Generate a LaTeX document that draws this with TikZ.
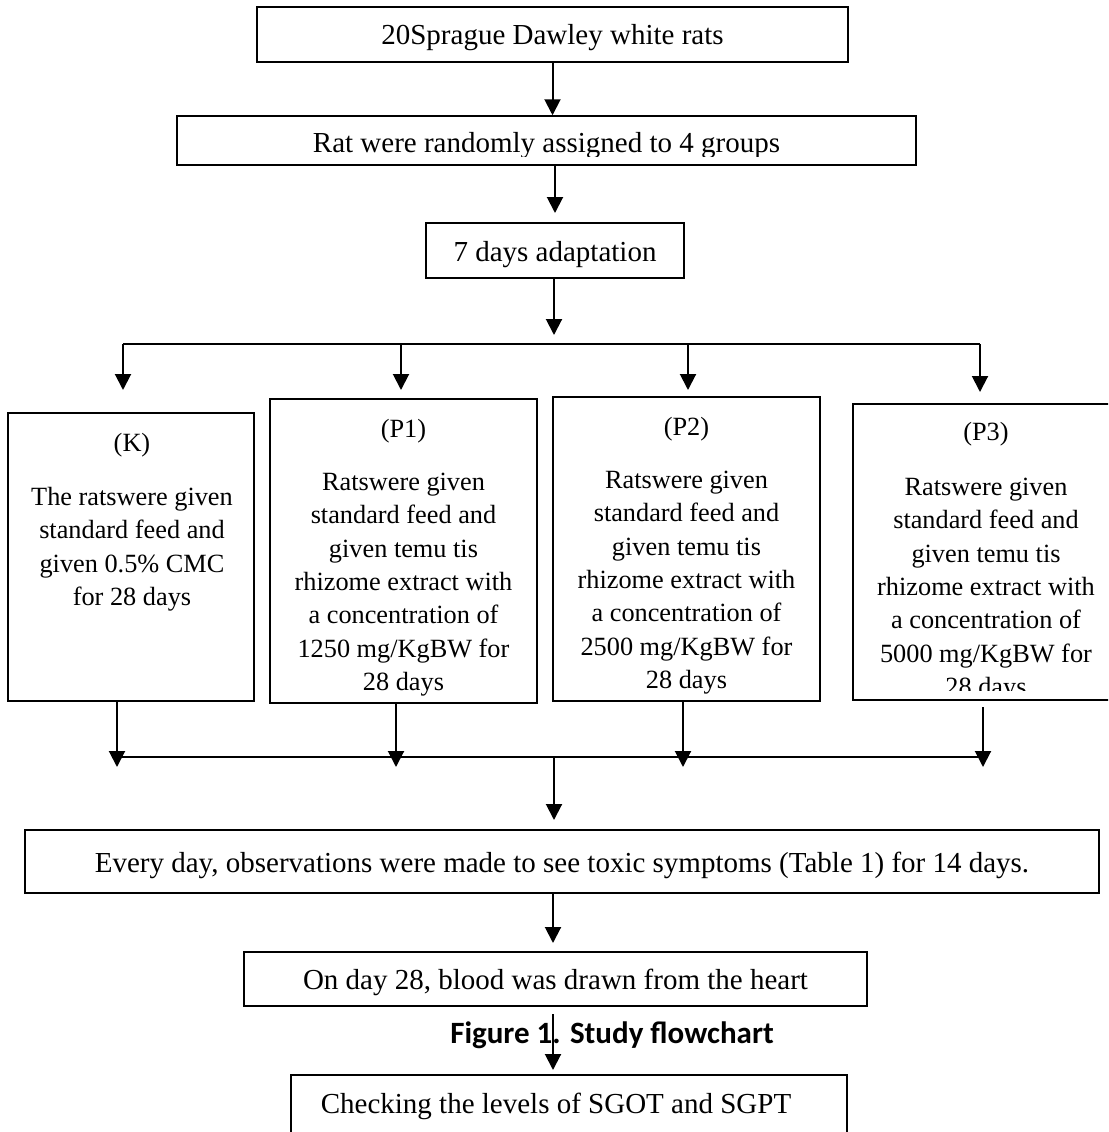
\documentclass[tikz,border=0pt]{standalone}
\usepackage{fontspec}
\setmainfont{Liberation Serif}
\newfontfamily\capfont{Carlito}
\usetikzlibrary{arrows.meta}
\begin{document}
\begin{tikzpicture}[x=1pt,y=-1pt,
  box/.style={draw, line width=1.5pt, inner sep=0pt, text height=21pt, text depth=0pt, font=\fontsize{29}{35}\selectfont},
  gbox/.style={draw, line width=1.5pt, inner sep=0pt},
  txt/.style={inner sep=0pt, font=\fontsize{29}{35}\selectfont},
  grp/.style={inner sep=0pt, align=center, anchor=north, font=\fontsize{26.3}{33.3}\selectfont},
  arr/.style={line width=2pt, -{Triangle[width=16pt,length=16pt]}},
  bus/.style={line width=2pt}]
\clip (0,0) rectangle (1108,1132);
\fill[white] (0,0) rectangle (1108,1132);

% top chain
\node[box, minimum width=591pt, minimum height=55pt] (b1) at (552.5,34.5) {20Sprague Dawley white rats};
\node[gbox, minimum width=739pt, minimum height=49pt] (b2) at (546.5,140.5) {};
\begin{scope}
  \clip (177,116) rectangle (916,156);
  \node[txt, anchor=base] (b2t) at (546.5,152) {Rat were randomly assigned to 4 groups};
\end{scope}
\node[box, minimum width=258pt, minimum height=55pt] (b3) at (555,250.5) {7 days adaptation};

\draw[arr] (b1.south) -- (b1.south |- b2.north);
\coordinate (t2) at (555,213);
\draw[arr] (b2.south -| t2) -- (t2);
\coordinate (t3) at (554,335);
\draw[arr] (b3.south -| t3) -- (t3);

% top bus
\coordinate (d1) at (123,344);
\coordinate (d2) at (401,344);
\coordinate (d3) at (688,344);
\coordinate (d4) at (980,344);
\coordinate (e1) at (123,390);
\coordinate (e2) at (401,390);
\coordinate (e3) at (688,390);
\coordinate (e4) at (980,392);
\draw[bus] (d1) -- (d4);
\draw[arr] (d1) -- (e1);
\draw[arr] (d2) -- (e2);
\draw[arr] (d3) -- (e3);
\draw[arr] (d4) -- (e4);

% group boxes
\node[gbox, minimum width=246pt, minimum height=288pt] (K) at (131,557) {};
\node[grp] (Kt) at (132,426) {\rule{0pt}{25pt}(K)\\[21pt] The ratswere given\\ standard feed and\\ given 0.5\% CMC\\ for 28 days};

\node[gbox, minimum width=267pt, minimum height=304pt] (P1) at (403.5,551) {};
\node[grp] (P1t) at (403.5,412) {\rule{0pt}{25pt}(P1)\\[20pt] Ratswere given\\ standard feed and\\ given temu tis\\ rhizome extract with\\ a concentration of\\ 1250 mg/KgBW for\\ 28 days};

\node[gbox, minimum width=267pt, minimum height=304pt] (P2) at (686.5,549) {};
\node[grp] (P2t) at (686.5,410) {\rule{0pt}{25pt}(P2)\\[20pt] Ratswere given\\ standard feed and\\ given temu tis\\ rhizome extract with\\ a concentration of\\ 2500 mg/KgBW for\\ 28 days};

\node[gbox, minimum width=266pt, minimum height=296pt] (P3) at (986,552) {};
\begin{scope}
  \clip (853,404) rectangle (1119,690);
  \node[grp] (P3t) at (986,415) {\rule{0pt}{25pt}(P3)\\[22pt] Ratswere given\\ standard feed and\\ given temu tis\\ rhizome extract with\\ a concentration of\\ 5000 mg/KgBW for\\ 28 days};
\end{scope}

% bottom bus
\coordinate (f1) at (117,767);
\coordinate (f2) at (396,767);
\coordinate (f3) at (683,767);
\coordinate (f4) at (983,767);
\coordinate (s4) at (983,707);
\draw[arr] (K.south -| f1) -- (f1);
\draw[arr] (P1.south -| f2) -- (f2);
\draw[arr] (P2.south -| f3) -- (f3);
\draw[arr] (s4) -- (f4);
\coordinate (g1) at (117,757);
\coordinate (g4) at (983,757);
\draw[bus] (g1) -- (g4);
\coordinate (g0) at (554,757);
\coordinate (h0) at (554,820);
\draw[arr] (g0) -- (h0);

% lower chain
\node[box, minimum width=1074pt, minimum height=63pt] (E) at (562,861.5) {Every day, observations were made to see toxic symptoms (Table 1) for 14 days.};
\coordinate (t5) at (553,943);
\draw[arr] (E.south -| t5) -- (t5);
\node[box, minimum width=623pt, minimum height=54pt] (O) at (555.5,979) {On day 28, blood was drawn from the heart};

\node[inner sep=0pt, anchor=base, font=\capfont\bfseries\fontsize{31}{37}\selectfont] (cap) at (612,1043) {Figure 1. Study flowchart};

\node[gbox, minimum width=556pt, minimum height=70pt] (C) at (569,1110) {};
\node[txt, anchor=base] (Ct) at (556,1113) {Checking the levels of SGOT and SGPT};

\coordinate (s6) at (553,1014);
\coordinate (t6) at (553,1070);
\draw[arr] (s6) -- (t6);
\end{tikzpicture}
\end{document}
